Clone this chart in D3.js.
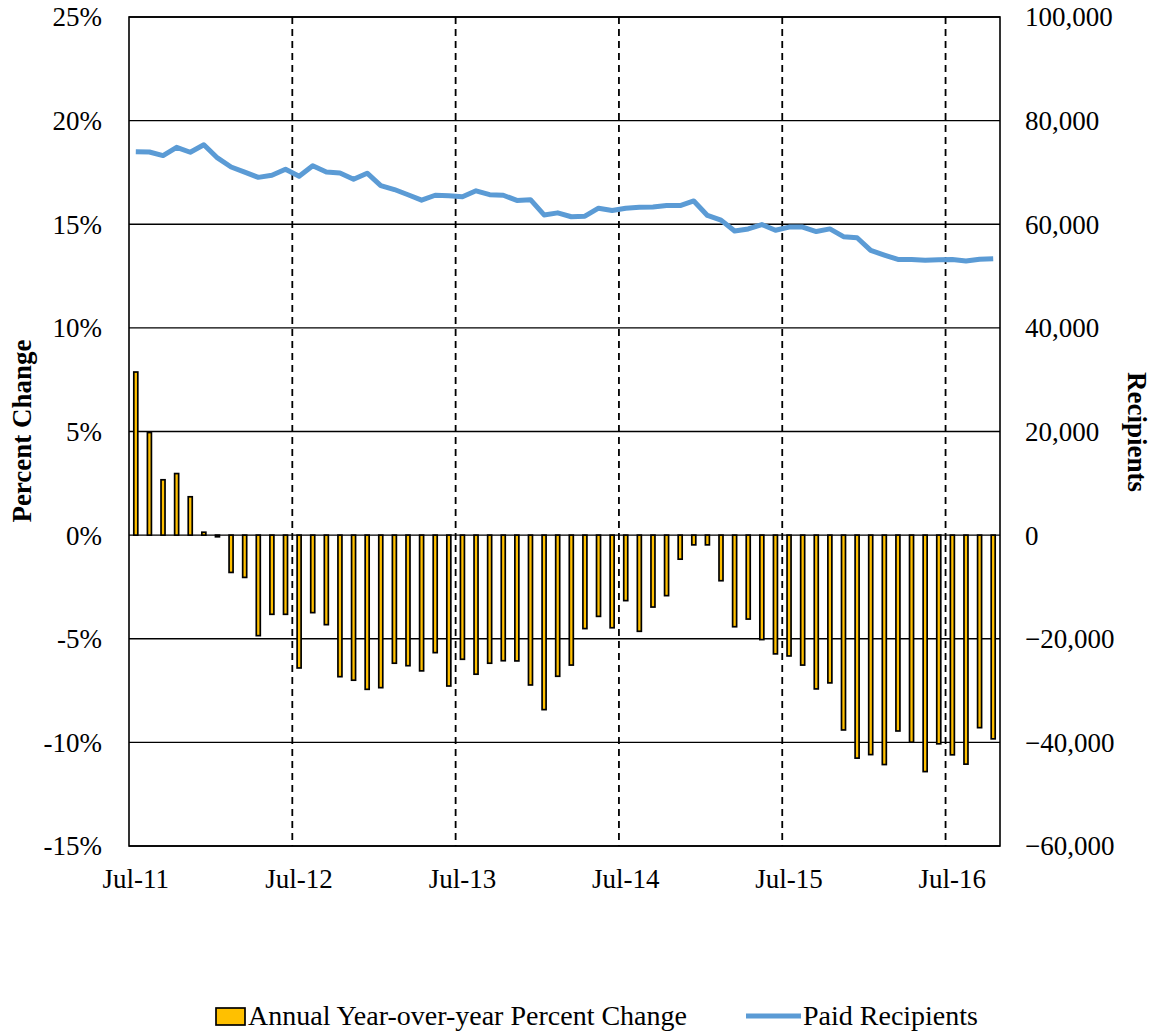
<!DOCTYPE html>
<html lang="en">
<head>
<meta charset="utf-8">
<title>Paid Recipients</title>
<script src="https://d3js.org/d3.v7.min.js"></script>
<style>
  body { margin: 0; background: #fff; }
  svg text { font-family: "Liberation Serif", "Times New Roman", serif; fill: #000; }
</style>
</head>
<body>
<svg id="chart" width="1157" height="1034"></svg>
<script>
// months Jul-11 .. Oct-16
const months = [
  "Jul-11","Aug-11","Sep-11","Oct-11","Nov-11","Dec-11","Jan-12","Feb-12","Mar-12","Apr-12","May-12","Jun-12",
  "Jul-12","Aug-12","Sep-12","Oct-12","Nov-12","Dec-12","Jan-13","Feb-13","Mar-13","Apr-13","May-13","Jun-13",
  "Jul-13","Aug-13","Sep-13","Oct-13","Nov-13","Dec-13","Jan-14","Feb-14","Mar-14","Apr-14","May-14","Jun-14",
  "Jul-14","Aug-14","Sep-14","Oct-14","Nov-14","Dec-14","Jan-15","Feb-15","Mar-15","Apr-15","May-15","Jun-15",
  "Jul-15","Aug-15","Sep-15","Oct-15","Nov-15","Dec-15","Jan-16","Feb-16","Mar-16","Apr-16","May-16","Jun-16",
  "Jul-16","Aug-16","Sep-16","Oct-16"
];

// annual year-over-year percent change (%)
const pctChange = [
  7.87, 4.95, 2.67, 2.97, 1.85, 0.14, -0.08, -1.80, -2.04, -4.85, -3.82, -3.82,
  -6.41, -3.74, -4.32, -6.83, -7.00, -7.44, -7.36, -6.18, -6.30, -6.55, -5.67, -7.28,
  -5.99, -6.71, -6.18, -6.06, -6.07, -7.23, -8.42, -6.81, -6.27, -4.51, -3.92, -4.47,
  -3.16, -4.64, -3.47, -2.92, -1.16, -0.47, -0.47, -2.20, -4.42, -4.05, -5.04, -5.73,
  -5.83, -6.27, -7.42, -7.13, -9.40, -10.76, -10.59, -11.07, -9.45, -9.99, -11.41, -10.07,
  -10.60, -11.05, -9.29, -9.83
];

// paid recipients
const recipients = [
  74000, 73950, 73250, 74850, 73900, 75350, 72800, 71050, 70050, 69050, 69450, 70600,
  69250, 71300, 70100, 69900, 68700, 69850, 67450, 66700, 65700, 64650, 65600, 65500,
  65300, 66450, 65700, 65600, 64600, 64750, 61800, 62200, 61450, 61550, 63100, 62650,
  63100, 63300, 63350, 63600, 63600, 64500, 61700, 60800, 58700, 59100, 59950, 58850,
  59450, 59450, 58600, 59100, 57600, 57400, 54950, 54050, 53200, 53200, 53050, 53150,
  53200, 52900, 53250, 53350
];

const leftTicks = [25, 20, 15, 10, 5, 0, -5, -10, -15];
const rightTicks = [100000, 80000, 60000, 40000, 20000, 0, -20000, -40000, -60000];

const svg = d3.select("#chart");
const plot = { left: 129, right: 1000, top: 17, bottom: 846 };

const x = d3.scaleBand().domain(months).range([plot.left, plot.right]).padding(0);
const yL = d3.scaleLinear().domain([-15, 25]).range([plot.bottom, plot.top]);
const yR = d3.scaleLinear().domain([-60000, 100000]).range([plot.bottom, plot.top]);

// horizontal gridlines
svg.append("g").selectAll("line").data(leftTicks)
  .join("line")
  .attr("x1", plot.left).attr("x2", plot.right)
  .attr("y1", d => yL(d)).attr("y2", d => yL(d))
  .attr("stroke", "#000").attr("stroke-width", 1.4);

// dashed year separators
const julys = months.filter((m, i) => m.startsWith("Jul") && i > 0);
svg.append("g").selectAll("line").data(julys)
  .join("line")
  .attr("x1", d => x(d)).attr("x2", d => x(d))
  .attr("y1", plot.top).attr("y2", plot.bottom)
  .attr("stroke", "#000").attr("stroke-width", 1.8)
  .attr("stroke-dasharray", "7,5");

// bars
const bw = 4;
svg.append("g").selectAll("rect").data(pctChange)
  .join("rect")
  .attr("x", (d, i) => x(months[i]) + x.bandwidth() / 2 - bw / 2)
  .attr("y", d => yL(Math.max(0, d)))
  .attr("width", bw)
  .attr("height", d => Math.abs(yL(d) - yL(0)))
  .attr("fill", "#FFC000")
  .attr("stroke", "#000")
  .attr("stroke-width", 1.7);

// plot frame
svg.append("rect")
  .attr("x", plot.left).attr("y", plot.top)
  .attr("width", plot.right - plot.left).attr("height", plot.bottom - plot.top)
  .attr("fill", "none").attr("stroke", "#000").attr("stroke-width", 1.6);

// recipients line
const line = d3.line()
  .x((d, i) => x(months[i]) + x.bandwidth() / 2)
  .y(d => yR(d));
svg.append("path").datum(recipients)
  .attr("d", line)
  .attr("fill", "none")
  .attr("stroke", "#5B9BD5")
  .attr("stroke-width", 5)
  .attr("stroke-linejoin", "round");

// left axis labels
svg.append("g").selectAll("text").data(leftTicks)
  .join("text")
  .attr("x", plot.left - 27)
  .attr("y", d => yL(d))
  .attr("dy", "0.35em")
  .attr("text-anchor", "end")
  .attr("font-size", 27)
  .text(d => d + "%");

// right axis labels
svg.append("g").selectAll("text").data(rightTicks)
  .join("text")
  .attr("x", plot.right + 25)
  .attr("y", d => yR(d))
  .attr("dy", "0.35em")
  .attr("text-anchor", "start")
  .attr("font-size", 27)
  .text(d => d3.format(",")(d));

// x axis labels
svg.append("g").selectAll("text").data(months.filter(m => m.startsWith("Jul")))
  .join("text")
  .attr("x", d => x(d) + x.bandwidth() / 2)
  .attr("y", plot.bottom + 42)
  .attr("text-anchor", "middle")
  .attr("font-size", 27)
  .text(d => d);

// axis titles
svg.append("text")
  .attr("transform", "translate(31,431) rotate(-90)")
  .attr("text-anchor", "middle")
  .attr("font-size", 27)
  .attr("font-weight", "bold")
  .text("Percent Change");

svg.append("text")
  .attr("transform", "translate(1128,432) rotate(90)")
  .attr("text-anchor", "middle")
  .attr("font-size", 27)
  .attr("font-weight", "bold")
  .text("Recipients");

// legend
const leg = svg.append("g");
leg.append("rect")
  .attr("x", 216).attr("y", 1008).attr("width", 29).attr("height", 17)
  .attr("fill", "#FFC000").attr("stroke", "#000").attr("stroke-width", 1.7);
leg.append("text")
  .attr("x", 248).attr("y", 1025)
  .attr("font-size", 28)
  .text("Annual Year-over-year Percent Change");
leg.append("line")
  .attr("x1", 746).attr("x2", 801).attr("y1", 1016).attr("y2", 1016)
  .attr("stroke", "#5B9BD5").attr("stroke-width", 5);
leg.append("text")
  .attr("x", 803).attr("y", 1025)
  .attr("font-size", 28)
  .text("Paid Recipients");
</script>
</body>
</html>
